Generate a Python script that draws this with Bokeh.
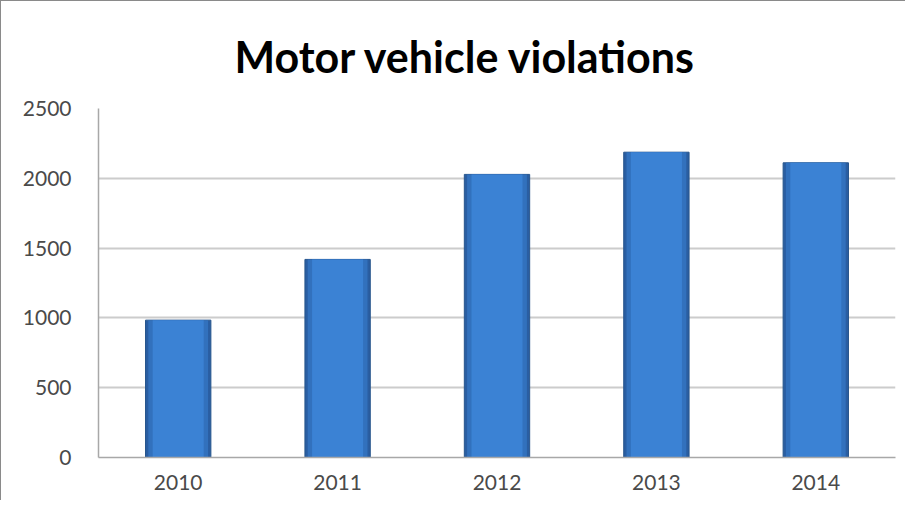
from bokeh.plotting import figure
from bokeh.embed import file_html
from bokeh.resources import INLINE
from bokeh.models import FixedTicker, Range1d

years = ["2010", "2011", "2012", "2013", "2014"]
violations = [984, 1419, 2028, 2187, 2111]
y_ticks = [0, 500, 1000, 1500, 2000, 2500]

p = figure(x_range=years, y_range=Range1d(0, 2500), width=905, height=500,
           output_backend="svg", toolbar_location=None,
           min_border_left=97, min_border_right=11, min_border_bottom=44, min_border_top=106)

p.title.text = "Motor vehicle violations"
p.title.align = "left"
p.title.text_font = "Lato"
p.title.text_font_style = "bold"
p.title.text_font_size = "43px"
p.title.text_color = "#000000"
p.title.offset = 136
p.title.standoff = 54

# layered bars (dark edge -> lighter body) give a shaded look
p.vbar(x=years, top=violations, width=0.41, fill_color="#2a5ea2",
       line_color="#27558c", line_width=1)
p.vbar(x=years, top=violations, width=0.375, fill_color="#3271bd", line_color=None)
p.vbar(x=years, top=violations, width=0.32, fill_color="#3b82d4", line_color=None)

p.yaxis.ticker = FixedTicker(ticks=y_ticks)
p.yaxis.major_label_text_font = "Lato"
p.yaxis.major_label_text_font_size = "21px"
p.yaxis.major_label_text_color = "#4a4a4a"
p.yaxis.axis_line_color = "#a8a8a8"
p.yaxis.axis_line_width = 1.5
p.yaxis.major_tick_line_color = None
p.yaxis.minor_tick_line_color = None
p.yaxis.major_label_standoff = 21

p.xaxis.major_label_text_font = "Lato"
p.xaxis.major_label_text_font_size = "21px"
p.xaxis.major_label_text_color = "#4a4a4a"
p.xaxis.axis_line_color = "#a8a8a8"
p.xaxis.axis_line_width = 1.5
p.xaxis.major_tick_line_color = None
p.xaxis.major_label_standoff = 11

p.xgrid.grid_line_color = None
p.ygrid.grid_line_color = "#cccccc"
p.ygrid.grid_line_width = 2
p.outline_line_color = None
p.x_range.range_padding = 0.0

p.styles = {"border-left": "1px solid #8a8a8a", "border-top": "1px solid #8a8a8a"}

open("out.html", "w").write(file_html(p, INLINE))
